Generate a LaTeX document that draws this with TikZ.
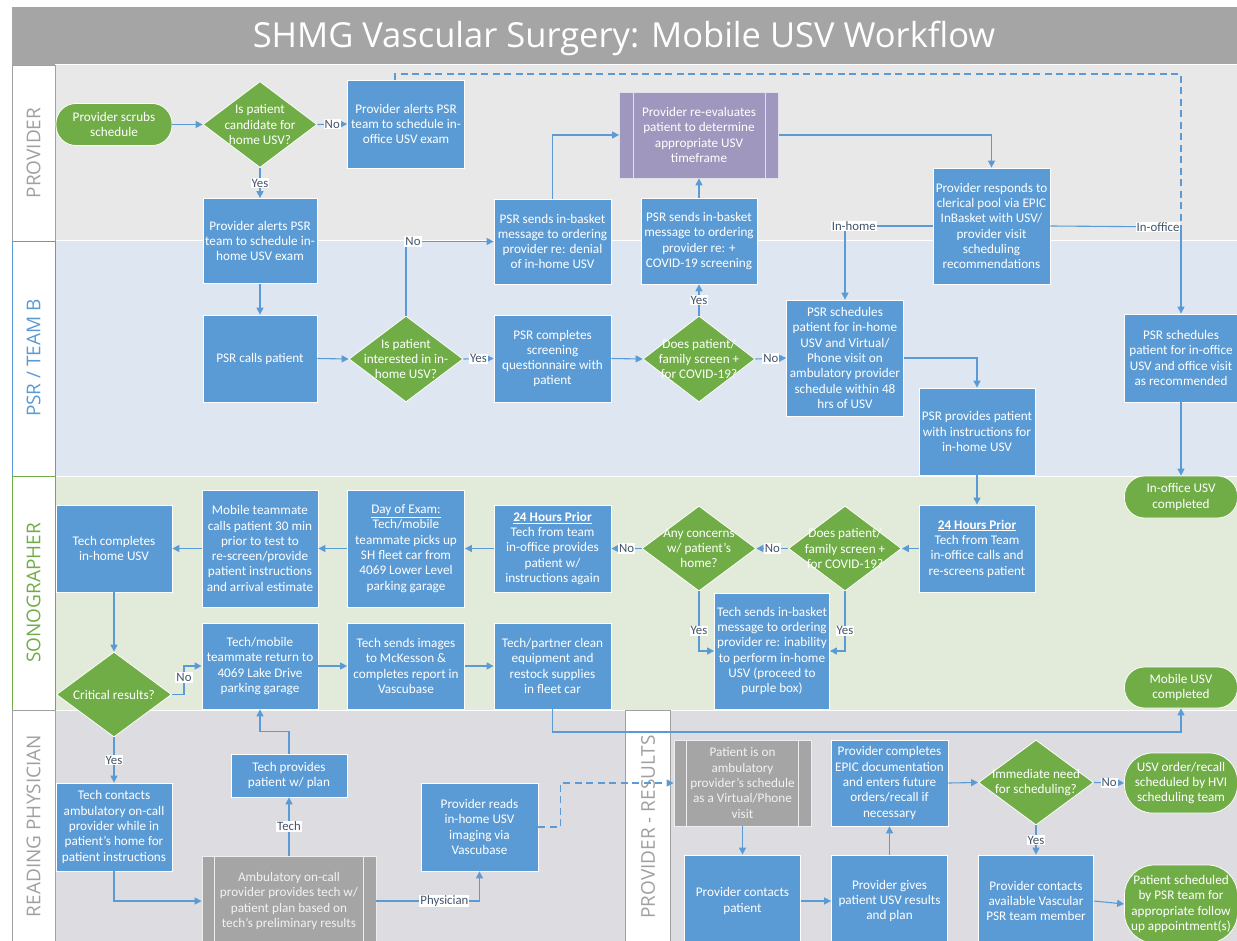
\documentclass[tikz,border=0pt]{standalone}
\usepackage{fontspec}
\setmainfont{Carlito}
\newfontfamily\headfont{Open Sans}
\usetikzlibrary{shapes.geometric,arrows.meta}
\definecolor{boxblue}{HTML}{5B9BD5}
\definecolor{lineblue}{HTML}{5B9BD5}
\definecolor{dgreen}{HTML}{70AD47}
\definecolor{purp}{HTML}{9F97BD}
\definecolor{gbox}{HTML}{A5A5A5}
\definecolor{titlegray}{HTML}{A5A5A5}
\definecolor{provbg}{HTML}{E8E8E8}
\definecolor{psrbg}{HTML}{DEE6F2}
\definecolor{sonobg}{HTML}{E2EBD9}
\definecolor{readbg}{HTML}{DDDCE1}
\definecolor{lanegray}{HTML}{A0A0A0}
\definecolor{lbltext}{HTML}{44546A}
\newcommand\bxfont{\fontsize{13.2}{15.3}\selectfont}
\begin{document}
\begin{tikzpicture}[x=1pt,y=-1pt,
  box/.style={rectangle, fill=boxblue, draw=white, line width=0.75pt, text=white, align=center, font=\bxfont, inner sep=0.5pt},
  gbx/.style={rectangle, fill=gbox, draw=white!80!gbox, line width=0.75pt, text=white!95!black, align=center, font=\bxfont, inner sep=0.5pt},
  pbx/.style={rectangle, fill=purp, draw=white!70!purp, line width=0.75pt, text=white, align=center, font=\bxfont, inner sep=0.5pt},
  dia/.style={diamond, fill=dgreen, draw=white, line width=0.75pt, inner sep=0pt},
  dtxt/.style={text=white, align=center, font=\bxfont, inner sep=0pt},
  pill/.style={rectangle, rounded corners=20pt, fill=dgreen, draw=white, line width=0.75pt, text=white, align=center, font=\bxfont, inner sep=0.5pt},
  conn/.style={draw=lineblue, line width=1.1pt, -{Triangle[length=7pt,width=7pt]}},
  ln/.style={draw=lineblue, line width=1.1pt},
  dline/.style={draw=lineblue, line width=1.1pt, dash pattern=on 7pt off 4.5pt},
  lbl/.style={fill=white, text=lbltext, font=\fontsize{12.8}{13.5}\selectfont, inner sep=1pt},
  lanelabel/.style={font=\headfont\fontsize{19}{22}\selectfont, rotate=90},
  lane/.style={draw=white, line width=1pt}
]
\useasboundingbox (0,0) rectangle (1237,941);
\clip (0,0) rectangle (1237,941);
\fill[white] (0,0) rectangle (1237,941);
% title
\fill[titlegray] (12,7) rectangle (1237,65);
\node[font=\headfont\fontsize{34.5}{40}\selectfont, text=white, anchor=base] (title) at (624,48) {SHMG Vascular Surgery: Mobile USV Workflow};
% lanes
\fill[provbg, lane] (55,65) rectangle (1240,241);
\fill[psrbg, lane] (55,241) rectangle (1240,476);
\fill[sonobg, lane] (55,476) rectangle (1240,710);
\fill[readbg, lane] (55,710) rectangle (1240,945);
\draw[lanegray, fill=white, line width=0.8pt] (12,65) rectangle (55,241);
\draw[boxblue, fill=white, line width=0.8pt] (12,241) rectangle (55,476);
\draw[dgreen, fill=white, line width=0.8pt] (12,476) rectangle (55,710);
\draw[lanegray, fill=white, line width=0.8pt] (12,710) rectangle (55,945);
\draw[lanegray, fill=white, line width=0.8pt] (625.5,710) rectangle (670,945);
\node[lanelabel, text=lanegray] (lprov) at (33.5,153) {PROVIDER};
\node[lanelabel, text=boxblue] (lpsr) at (33.5,358) {PSR / TEAM B};
\node[lanelabel, text=dgreen] (lsono) at (33.5,593) {SONOGRAPHER};
\node[lanelabel, text=lanegray] (lread) at (33.5,826) {READING PHYSICIAN};
\node[lanelabel, text=lanegray] (lres) at (648,827) {PROVIDER - RESULTS};
% coordinates
\coordinate (io) at (1181,227);
\coordinate (dtop) at (1181,74);
\coordinate (nc) at (184,694.5);
\coordinate (mcor) at (1181,732);
% provider lane
\node[pill, minimum width=116, minimum height=42] (start1) at (114,124.5) {Provider scrubs\\schedule};
\node[dia, minimum width=114, minimum height=86, label={[dtxt]center:{Is patient\\candidate for\\home USV?}}] (d1) at (260,124.5) {};
\node[box, minimum width=117, minimum height=88] (b1) at (406,124) {Provider alerts PSR\\team to schedule in-\\office USV exam};
\node[box, minimum width=114, minimum height=85] (b2) at (260,241) {Provider alerts PSR\\team to schedule in-\\home USV exam};
\node[box, minimum width=117, minimum height=85] (bden) at (552.5,241.5) {PSR sends in-basket\\message to ordering\\provider re: denial\\of in-home USV};
\node[pbx, minimum width=159, minimum height=86] (pur) at (699,135) {Provider re-evaluates\\patient to determine\\appropriate USV\\timeframe};
\draw[white!70!purp, line width=0.75pt] ([xshift=14]pur.north west) -- ([xshift=14]pur.south west);
\draw[white!70!purp, line width=0.75pt] ([xshift=-14]pur.north east) -- ([xshift=-14]pur.south east);
\node[box, minimum width=116, minimum height=86] (bcov) at (699,241) {PSR sends in-basket\\message to ordering\\provider re: +\\COVID-19 screening};
\node[box, minimum width=117, minimum height=116] (b3) at (991.5,226) {Provider responds to\\clerical pool via EPIC\\InBasket with USV/\\provider visit\\scheduling\\recommendations};
% PSR lane
\node[box, minimum width=114, minimum height=87] (b4) at (260,358.5) {PSR calls patient};
\node[dia, minimum width=114, minimum height=86, label={[dtxt]center:{Is patient\\interested in in-\\home USV?}}] (d2) at (406,359) {};
\node[box, minimum width=117, minimum height=87] (b5) at (552.5,358.5) {PSR completes\\screening\\questionnaire with\\patient};
\node[dia, minimum width=112, minimum height=86, label={[dtxt]center:{Does patient/\\family screen +\\for COVID-19?}}] (d3) at (699,359) {};
\node[box, minimum width=117, minimum height=116] (b6) at (845,358) {PSR schedules\\patient for in-home\\USV and Virtual/\\Phone visit on\\ambulatory provider\\schedule within 48\\hrs of USV};
\node[box, minimum width=116, minimum height=87] (b7) at (977,431.5) {PSR provides patient\\with instructions for\\in-home USV};
\node[box, minimum width=113, minimum height=88] (b8) at (1181,358) {PSR schedules\\patient for in-office\\USV and office visit\\as recommended};
% sonographer lane
\node[pill, minimum width=113, minimum height=42] (pio) at (1181,497) {In-office USV\\completed};
\node[box, minimum width=116, minimum height=87] (b9) at (977,548.5) {\underline{\textbf{24 Hours Prior}}\\Tech from Team\\in-office calls and\\re-screens patient};
\node[dia, minimum width=113, minimum height=85, label={[dtxt]center:{Does patient/\\family screen +\\for COVID-19?}}] (d4) at (845,548.5) {};
\node[dia, minimum width=114, minimum height=85, label={[dtxt]center:{Any concerns\\w/ patient’s\\home?}}] (d5) at (699,548.5) {};
\node[box, minimum width=115, minimum height=116] (b10) at (772,651) {Tech sends in-basket\\message to ordering\\provider re: inability\\to perform in-home\\USV (proceed to\\purple box)};
\node[pill, minimum width=113, minimum height=41] (pmob) at (1181,687.5) {Mobile USV\\completed};
\node[box, minimum width=117, minimum height=87] (b14) at (552.5,548.5) {\underline{\textbf{24 Hours Prior}}\\Tech from team\\in-office provides\\patient w/\\instructions again};
\node[box, minimum width=117, minimum height=117] (b13) at (406,548.5) {\underline{Day of Exam:}\\Tech/mobile\\teammate picks up\\SH fleet car from\\4069 Lower Level\\parking garage};
\node[box, minimum width=116, minimum height=117] (b12) at (260,548.5) {Mobile teammate\\calls patient 30 min\\prior to test to\\re-screen/provide\\patient instructions\\and arrival estimate};
\node[box, minimum width=116, minimum height=87] (b11) at (114,548.5) {Tech completes\\in-home USV};
\node[dia, minimum width=115, minimum height=85, label={[dtxt]center:{Critical results?}}] (d6) at (114,694.5) {};
\node[box, minimum width=116, minimum height=86] (b15) at (260,666) {Tech/mobile\\teammate return to\\4069 Lake Drive\\parking garage};
\node[box, minimum width=117, minimum height=86] (b16) at (406,666) {Tech sends images\\to McKesson \&\\completes report in\\Vascubase};
\node[box, minimum width=117, minimum height=86] (b17) at (552.5,666) {Tech/partner clean\\equipment and\\restock supplies\\in fleet car};
% reading physician lane
\node[box, minimum width=116, minimum height=88] (b18) at (114,827) {Tech contacts\\ambulatory on-call\\provider while in\\patient’s home for\\patient instructions};
\node[box, minimum width=116, minimum height=43] (b19) at (289,775.5) {Tech provides\\patient w/ plan};
\node[gbx, minimum width=174, minimum height=90] (b20) at (289,901) {Ambulatory on-call\\provider provides tech w/\\patient plan based on\\tech’s preliminary results};
\draw[white!80!gbox, line width=0.75pt] ([xshift=13]b20.north west) -- ([xshift=13]b20.south west);
\draw[white!80!gbox, line width=0.75pt] ([xshift=-13]b20.north east) -- ([xshift=-13]b20.south east);
\node[box, minimum width=117, minimum height=88] (b21) at (479.5,827) {Provider reads\\in-home USV\\imaging via\\Vascubase};
% provider results
\node[gbx, minimum width=137, minimum height=86] (b22) at (742.5,783) {Patient is on\\ambulatory\\provider’s schedule\\as a Virtual/Phone\\visit};
\draw[white!80!gbox, line width=0.75pt] ([xshift=13]b22.north west) -- ([xshift=13]b22.south west);
\draw[white!80!gbox, line width=0.75pt] ([xshift=-13]b22.north east) -- ([xshift=-13]b22.south east);
\node[box, minimum width=116, minimum height=92] (b23) at (742.5,901) {Provider contacts\\patient};
\node[box, minimum width=116, minimum height=92] (b24) at (889.5,901) {Provider gives\\patient USV results\\and plan};
\node[box, minimum width=117, minimum height=86] (b25) at (889.5,783) {Provider completes\\EPIC documentation\\and enters future\\orders/recall if\\necessary};
\node[dia, minimum width=115, minimum height=85, label={[dtxt]center:{Immediate need\\for scheduling?}}] (d7) at (1036,782.5) {};
\node[pill, rounded corners=28pt, minimum width=113, minimum height=60] (phvi) at (1181,783) {USV order/recall\\scheduled by HVI\\scheduling team};
\node[box, minimum width=115, minimum height=92] (b26) at (1036,901) {Provider contacts\\available Vascular\\PSR team member};
\node[pill, rounded corners=30pt, minimum width=113, minimum height=78] (pps) at (1181,904) {Patient scheduled\\by PSR team for\\appropriate follow\\up appointment(s)};
% connectors
\draw[conn] (start1.east) -- (d1.west);
\draw[conn] (d1.east) -- node[lbl]{No} (b1.west);
\draw[conn] (d1.south) -- node[lbl]{Yes} (b2.north);
\draw[dline] ([xshift=-11]b1.north) |- (dtop) -- (io);
\draw[ln] (b3.east) -- (io) node[lbl, anchor=east, pos=1]{In-office};
\draw[conn] (io) -- (b8.north);
\draw[conn] (b3.west) -| node[lbl, pos=0.45]{In-home} (b6.north);
\draw[conn] (b2.south) -- (b4.north);
\draw[conn] (b4.east) -- (d2.west);
\draw[conn] (d2.north) |- node[lbl, pos=0.5, xshift=7]{No} (bden.west);
\draw[conn] (d2.east) -- node[lbl]{Yes} (b5.west);
\draw[conn] (bden.north) |- (pur.west);
\draw[conn] (b5.east) -- (d3.west);
\draw[conn] (d3.north) -- node[lbl]{Yes} (bcov.south);
\draw[conn] (bcov.north) -- (pur.south);
\draw[conn] (pur.east) -| (b3.north);
\draw[conn] (d3.east) -- node[lbl]{No} (b6.west);
\draw[conn] (b6.east) -| (b7.north);
\draw[conn] (b8.south) -- (pio.north);
\draw[conn] (b7.south) -- (b9.north);
\draw[conn] (b9.west) -- (d4.east);
\draw[conn] (d4.west) -- node[lbl]{No} (d5.east);
\draw[conn] (d5.west) -- node[lbl]{No} (b14.east);
\draw[conn] (d5.south) |- node[lbl, pos=0.33]{Yes} (b10.west);
\draw[conn] (d4.south) |- node[lbl, pos=0.33]{Yes} (b10.east);
\draw[conn] (b14.west) -- (b13.east);
\draw[conn] (b13.west) -- (b12.east);
\draw[conn] (b12.west) -- (b11.east);
\draw[conn] (b11.south) -- (d6.north);
\draw[conn] (d6.east) -- (nc) |- node[lbl, pos=0.3]{No} (b15.west);
\draw[conn] (b15.east) -- (b16.west);
\draw[conn] (b16.east) -- (b17.west);
\draw[conn] (b17.south) |- (mcor) -- (pmob.south);
\draw[conn] (d6.south) -- node[lbl]{Yes} (b18.north);
\draw[conn] (b18.south) |- (b20.west);
\draw[conn] (b20.north) -- node[lbl]{Tech} (b19.south);
\draw[conn] (b19.north) -- ++(0,-22) -| (b15.south);
\draw[conn] (b20.east) -| node[lbl, pos=0.33]{Physician} (b21.south);
\draw[conn, dash pattern=on 7pt off 4.5pt] (b21.east) -- ++(22,0) |- (b22.west);
\draw[conn] (b22.south) -- (b23.north);
\draw[conn] (b23.east) -- (b24.west);
\draw[conn] (b24.north) -- (b25.south);
\draw[conn] (b25.east) -- (d7.west);
\draw[conn] (d7.east) -- node[lbl]{No} (phvi.west);
\draw[conn] (d7.south) -- node[lbl]{Yes} (b26.north);
\draw[conn] (b26.east) -- (pps.west);
\end{tikzpicture}
\end{document}
